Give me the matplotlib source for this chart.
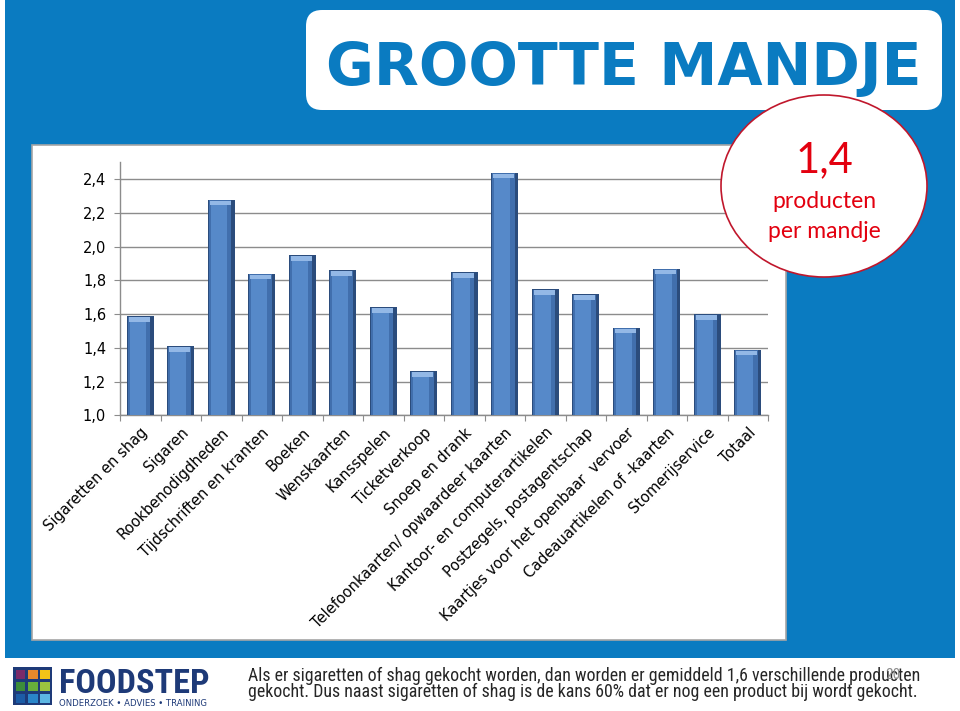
import matplotlib
matplotlib.use("Agg")
import matplotlib.pyplot as plt
import numpy as np
from matplotlib import font_manager as fm
from matplotlib.patches import Rectangle, FancyBboxPatch, Ellipse

# ---------------- data ----------------
categories = [
    "Sigaretten en shag", "Sigaren", "Rookbenodigdheden", "Tijdschriften en kranten",
    "Boeken", "Wenskaarten", "Kansspelen", "Ticketverkoop", "Snoep en drank",
    "Telefoonkaarten/ opwaardeer kaarten", "Kantoor- en computerartikelen",
    "Postzegels, postagentschap", "Kaartjes voor het openbaar  vervoer",
    "Cadeauartikelen of -kaarten", "Stomerijservice", "Totaal",
]
values = [1.59, 1.41, 2.28, 1.84, 1.95, 1.86, 1.64, 1.26, 1.85,
          2.44, 1.75, 1.72, 1.52, 1.87, 1.60, 1.39]
yticks = [1.0, 1.2, 1.4, 1.6, 1.8, 2.0, 2.2, 2.4]
ytick_labels = ["1,0", "1,2", "1,4", "1,6", "1,8", "2,0", "2,2", "2,4"]
title = "GROOTTE MANDJE"
badge_value = "1,4"
badge_lines = ["producten", "per mandje"]
footer_lines = [
    "Als er sigaretten of shag gekocht worden, dan worden er gemiddeld 1,6 verschillende producten",
    "gekocht. Dus naast sigaretten of shag is de kans 60% dat er nog een product bij wordt gekocht.",
]
slide_number = "20"
logo_name = "FOODSTEP"
logo_tagline = "ONDERZOEK \u2022 ADVIES \u2022 TRAINING"
logo_colors = [["#7A2A6A", "#E8892B", "#F2C417"],
               ["#3C8C3A", "#68AE3A", "#9BC43F"],
               ["#1C5CA6", "#2A86C9", "#5CB6E2"]]

# ---------------- fonts ----------------
names = {f.name for f in fm.fontManager.ttflist}
narrow_fam, narrow_stretch = "Liberation Sans", "normal"
for cand in ["Liberation Sans Narrow", "Arial Narrow", "Roboto Condensed",
             "Open Sans Condensed", "DejaVu Sans Condensed"]:
    if cand in names:
        narrow_fam = cand
        break
else:
    for f in fm.fontManager.ttflist:
        if f.name == "DejaVu Sans" and str(f.stretch) in ("condensed", "semi-condensed"):
            narrow_fam, narrow_stretch = "DejaVu Sans", "condensed"
            break
badge_font = "Lato" if "Lato" in names else "DejaVu Sans"

W, H = 960, 711
fig = plt.figure(figsize=(W / 100, H / 100), dpi=100, facecolor="white")
renderer = fig.canvas.get_renderer()


def fit_width(txt, target_px):
    bb = txt.get_window_extent(renderer=renderer)
    txt.set_fontsize(txt.get_fontsize() * target_px / bb.width)


BLUE = "#0A7BC1"
NAVY = "#1E3A78"

# background overlay (pixel coords)
bg = fig.add_axes([0, 0, 1, 1], zorder=0)
bg.set_xlim(0, W); bg.set_ylim(H, 0); bg.axis("off")
bg.add_patch(Rectangle((5, 0), 950, 658, facecolor=BLUE, edgecolor="none"))
bg.add_patch(Rectangle((32, 145), 754, 495, facecolor="white", edgecolor="#A6A6A6", lw=1.2))
bg.add_patch(FancyBboxPatch((306, 10), 636, 100, boxstyle="round,pad=0,rounding_size=16",
                            facecolor="white", edgecolor="none", mutation_aspect=1))
bg.text(624, 85, title, ha="center", va="baseline", fontsize=42, fontweight="bold",
        color=BLUE, family="DejaVu Sans")

# ---------------- chart axes ----------------
left_px, right_px, top_px, bot_px = 120, 768, 162.5, 415.3
ax = fig.add_axes([left_px / W, 1 - bot_px / H, (right_px - left_px) / W, (bot_px - top_px) / H],
                  zorder=1)
ax.patch.set_facecolor("white")
n = len(categories)
x = np.arange(n)
vals = np.array(values)
base = 1.0
# bevelled bars built from the data
ax.bar(x, vals - base, bottom=base, width=0.66, color="#2B4C7C", zorder=3)
ax.bar(x - 0.03, vals - base - 0.004, bottom=base, width=0.56, color="#416FAD", zorder=3)
ax.bar(x - 0.06, vals - base - 0.006, bottom=base, width=0.40, color="#5689C9", zorder=3)
ax.bar(x - 0.02, 0.028, bottom=vals - 0.034, width=0.52, color="#93B8E6", zorder=4)

ax.set_xlim(-0.5, n - 0.5)
ax.set_ylim(1.0, 2.5)
ax.set_yticks(yticks)
ax.set_yticklabels(ytick_labels, fontsize=10.5, family="DejaVu Sans", color="black")
ax.yaxis.grid(True, color="#8C8C8C", lw=1.0, zorder=0)
ax.set_axisbelow(True)
for s in ["top", "right"]:
    ax.spines[s].set_visible(False)
for s in ["left", "bottom"]:
    ax.spines[s].set_color("#8C8C8C")
    ax.spines[s].set_linewidth(1.0)
ax.tick_params(axis="y", length=4, color="#8C8C8C", pad=6)
ax.set_xticks(np.arange(n + 1) - 0.5)
ax.set_xticklabels([])
ax.tick_params(axis="x", length=4, color="#8C8C8C")
ax.set_xticks(x, minor=True)
ax.set_xticklabels(categories, minor=True, rotation=45, ha="right", va="top",
                   rotation_mode="anchor", fontsize=10.5, family="DejaVu Sans")
ax.tick_params(axis="x", which="minor", length=0, pad=7)

# ---------------- foreground overlay ----------------
fg = fig.add_axes([0, 0, 1, 1], zorder=2)
fg.set_xlim(0, W); fg.set_ylim(H, 0); fg.axis("off")
fg.patch.set_alpha(0)
fg.add_patch(Ellipse((824, 186), 206, 182, facecolor="white", edgecolor="#C0172C", lw=1.2))
fg.text(824, 172, badge_value, ha="center", va="baseline", fontsize=30, color="#E3000F",
        family=badge_font)
fg.text(824, 208, badge_lines[0], ha="center", va="baseline", fontsize=16.5, color="#E3000F",
        family=badge_font)
fg.text(824, 238, badge_lines[1], ha="center", va="baseline", fontsize=16.5, color="#E3000F",
        family=badge_font)

# logo
fg.add_patch(Rectangle((13, 667), 39, 38, facecolor=NAVY, edgecolor="none"))
for r in range(3):
    for c in range(3):
        fg.add_patch(Rectangle((15.5 + c * 12.2, 669.5 + r * 12.0), 9.8, 9.6,
                               facecolor=logo_colors[r][c], edgecolor="none"))
t_logo = fg.text(59, 693, logo_name, ha="left", va="baseline", fontsize=23, fontweight="bold",
                 color=NAVY, family=narrow_fam, fontstretch=narrow_stretch)
fit_width(t_logo, 151)
t_tag = fg.text(59, 706, logo_tagline, ha="left", va="baseline", fontsize=4.6, color=NAVY,
                family="DejaVu Sans")
fit_width(t_tag, 147)

# footer text (one two-line text block; baseline anchor is the last line)
foot = fg.text(248, 697, "\n".join(footer_lines), ha="left", va="baseline", fontsize=12.5,
               color="#262626", family=narrow_fam, fontstretch=narrow_stretch,
               linespacing=1.0)
fit_width(foot, 676)
lp_w, lp_h, lp_d = renderer.get_text_width_height_descent("lp", foot.get_fontproperties(), ismath=False)
foot.set_linespacing(max(0.5, (16.0 - lp_d) / (lp_h - lp_d)))
fg.text(893, 679, slide_number, ha="center", va="baseline", fontsize=11, color="#8C8C8C",
        family=narrow_fam, fontstretch=narrow_stretch)

fig.savefig("out.png", dpi=100, facecolor="white")
